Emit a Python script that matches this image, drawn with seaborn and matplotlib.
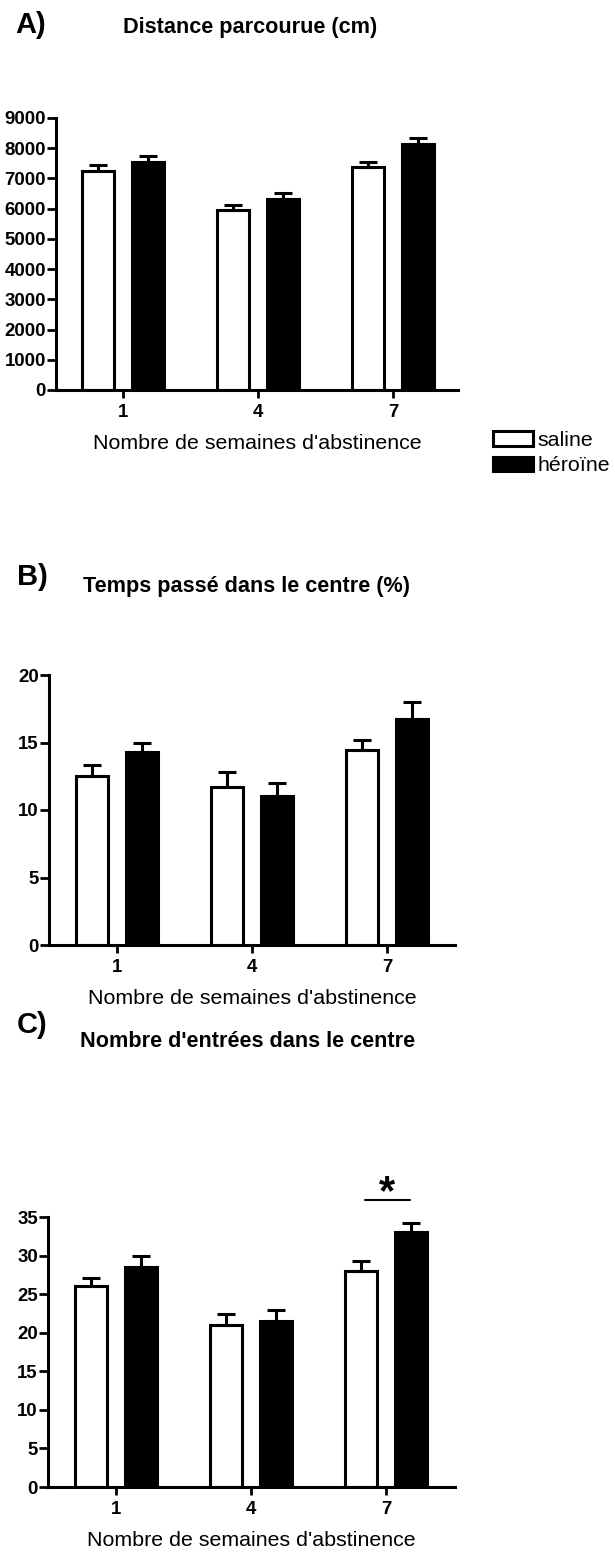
import numpy as np
import pandas as pd
import matplotlib
matplotlib.use("Agg")
import matplotlib.pyplot as plt
import seaborn as sns

# ---- data -------------------------------------------------------------
weeks = ["1", "4", "7"]
groups = ["saline", "héroïne"]

distance_saline = [7260, 5960, 7390]
distance_saline_sem = [170, 150, 160]
distance_heroine = [7550, 6330, 8150]
distance_heroine_sem = [200, 190, 200]

center_time_saline = [12.5, 11.7, 14.45]
center_time_saline_sem = [0.85, 1.15, 0.72]
center_time_heroine = [14.27, 11.04, 16.77]
center_time_heroine_sem = [0.72, 0.94, 1.21]

center_entries_saline = [26.0, 21.06, 28.04]
center_entries_saline_sem = [1.12, 1.38, 1.2]
center_entries_heroine = [28.55, 21.5, 33.07]
center_entries_heroine_sem = [1.38, 1.4, 1.17]

distance_yticks = [0, 1000, 2000, 3000, 4000, 5000, 6000, 7000, 8000, 9000]
center_time_yticks = [0, 5, 10, 15, 20]
center_entries_yticks = [0, 5, 10, 15, 20, 25, 30, 35]

xlabel = "Nombre de semaines d'abstinence"
panel_letters = ["A)", "B)", "C)"]
panel_titles = ["Distance parcourue (cm)",
                "Temps passé dans le centre (%)",
                "Nombre d'entrées dans le centre"]

# ---- style --------------------------------------------------------------
sns.set_style("ticks")
plt.rcParams["font.family"] = ["Liberation Sans", "DejaVu Sans"]
plt.rcParams["axes.linewidth"] = 2.2
for key in ["text.color", "axes.labelcolor", "axes.edgecolor",
            "xtick.color", "ytick.color"]:
    plt.rcParams[key] = "black"

W, H = 615, 1554
fig = plt.figure(figsize=(W / 100, H / 100), dpi=100)


def px_axes(left, right, top, bottom):
    return fig.add_axes([left / W, 1 - bottom / H, (right - left) / W, (bottom - top) / H])


LW = 2.2


def draw_panel(ax, saline, saline_sem, heroine, heroine_sem, yticks, xlim):
    df = pd.DataFrame({
        "semaine": weeks * 2,
        "groupe": [groups[0]] * len(weeks) + [groups[1]] * len(weeks),
        "valeur": list(saline) + list(heroine),
    })
    sns.barplot(data=df, x="semaine", y="valeur", hue="groupe",
                order=weeks, hue_order=groups,
                palette={groups[0]: "white", groups[1]: "black"}, saturation=1,
                width=0.75, gap=0.37, edgecolor="black", linewidth=LW,
                errorbar=None, legend=False, ax=ax)
    # one-sided SEM bars on top of each bar
    for container, means, sems in zip(ax.containers, [saline, heroine],
                                      [saline_sem, heroine_sem]):
        xs = [p.get_x() + p.get_width() / 2 for p in container.patches]
        ax.errorbar(xs, means, yerr=[np.zeros(len(sems)), sems], fmt="none",
                    ecolor="black", elinewidth=LW, capsize=6.8, capthick=LW,
                    zorder=3)
    ax.set_ylim(yticks[0], yticks[-1])
    ax.set_xlim(*xlim)
    ax.set_yticks(yticks)
    ax.set_ylabel("")
    ax.set_xlabel(xlabel, fontsize=15.4, labelpad=9.5, color="black")
    sns.despine(ax=ax)
    for side in ["left", "bottom"]:
        ax.spines[side].set_color("black")
    ax.tick_params(axis="y", length=6.5, width=2.0, pad=0.8, labelsize=13.4,
                   colors="black")
    ax.tick_params(axis="x", length=5.8, width=2.0, pad=4, labelsize=13.4,
                   colors="black")
    for lab in ax.get_xticklabels() + ax.get_yticklabels():
        lab.set_fontweight("bold")


# ---- panel A ------------------------------------------------------------
axA = px_axes(56, 458, 118, 390)
draw_panel(axA, distance_saline, distance_saline_sem,
           distance_heroine, distance_heroine_sem, distance_yticks, (-0.496, 2.481))

# ---- panel B ------------------------------------------------------------
axB = px_axes(49, 455, 675, 945)
draw_panel(axB, center_time_saline, center_time_saline_sem,
           center_time_heroine, center_time_heroine_sem, center_time_yticks, (-0.504, 2.504))

# ---- panel C ------------------------------------------------------------
axC = px_axes(48, 455, 1217, 1487)
draw_panel(axC, center_entries_saline, center_entries_saline_sem,
           center_entries_heroine, center_entries_heroine_sem, center_entries_yticks, (-0.504, 2.511))

# significance marker for week 7
top7 = max(center_entries_saline[2] + center_entries_saline_sem[2],
           center_entries_heroine[2] + center_entries_heroine_sem[2])
sig_y = top7 + 3.0
axC.plot([2 - 0.157, 2 + 0.177], [sig_y, sig_y], color="black", lw=1.5, clip_on=False)
axC.text(2.01, sig_y - 0.6, "*", ha="center", va="baseline", fontsize=30,
         fontweight="bold", clip_on=False)

# ---- titles -------------------------------------------------------------
letter_pos = [(15, 33), (17, 585), (17, 1033)]
title_pos = [(123, 33), (83, 592), (80, 1047)]
for letter, (lx, ly), title, (tx, ty) in zip(panel_letters, letter_pos, panel_titles, title_pos):
    fig.text(lx / W, 1 - ly / H, letter, fontsize=21, fontweight="bold",
             ha="left", va="baseline")
    fig.text(tx / W, 1 - ty / H, title, fontsize=15.6, fontweight="bold",
             ha="left", va="baseline")

# ---- legend -------------------------------------------------------------
fig.legend(handles=list(axA.containers), labels=groups, loc="upper left",
           bbox_to_anchor=(493 / W, 1 - 431 / H), frameon=False, fontsize=15.4,
           handlelength=1.87, handleheight=0.65, handletextpad=0.2,
           labelspacing=0.3, borderpad=0, borderaxespad=0)

fig.savefig("out.png", dpi=100)
